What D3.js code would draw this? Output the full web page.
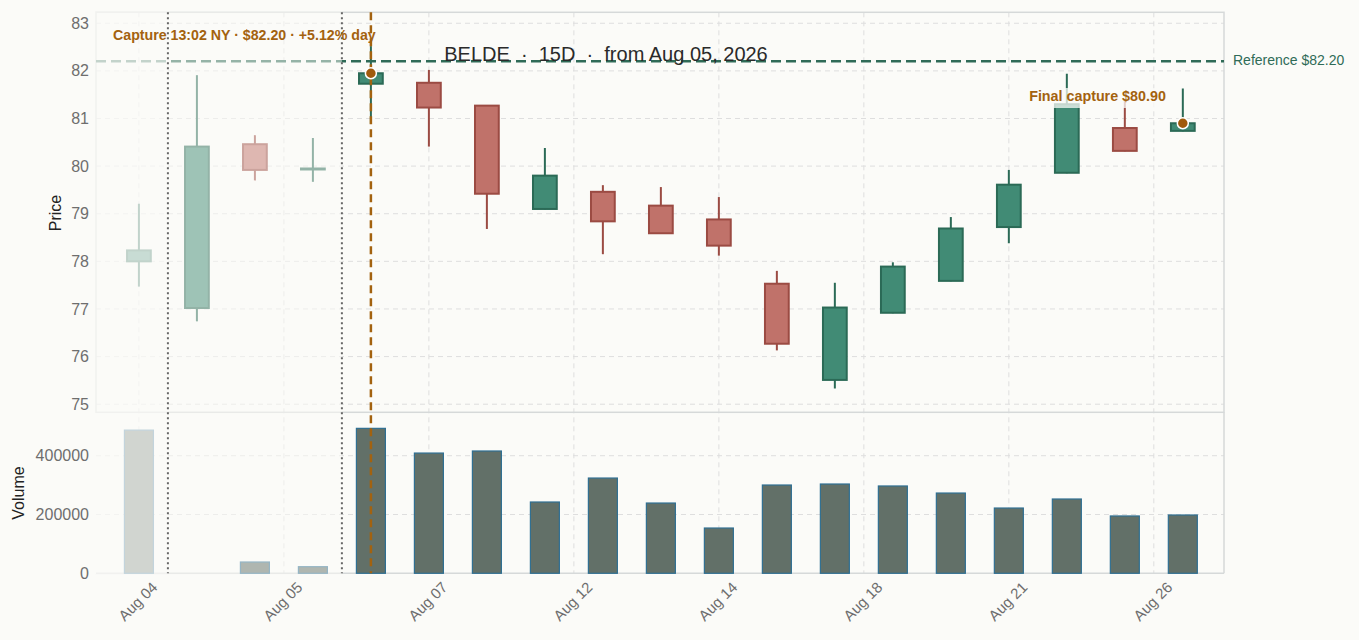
<!DOCTYPE html>
<html>
<head>
<meta charset="utf-8">
<script src="https://cdn.jsdelivr.net/npm/d3@7/dist/d3.min.js"></script>
<style>
  html, body { margin: 0; padding: 0; background: #fbfbf8; }
  svg { display: block; font-family: "Liberation Sans", Arial, sans-serif; }
</style>
</head>
<body>
<svg id="chart" width="1359" height="640"></svg>
<script>
// ---------------- DATA ----------------
const sessions = ["prior","pre","pre","pre","live","live","live","live","live","live","live","live","live","live","live","live","live","live","live"];
const openP  = [78.00, 77.02, 80.46, 79.93, 81.73, 81.75, 81.27, 79.10, 79.46, 79.17, 78.88, 77.53, 75.51, 76.92, 77.59, 78.72, 79.86, 80.80, 80.74];
const highP  = [79.21, 81.91, 80.65, 80.59, 82.52, 82.02, 81.28, 80.38, 79.60, 79.56, 79.35, 77.80, 77.55, 77.98, 78.93, 79.92, 81.94, 81.39, 81.63];
const lowP   = [77.47, 76.74, 79.70, 79.67, 80.89, 80.41, 78.68, 79.09, 78.15, 78.58, 78.12, 76.13, 75.33, 76.91, 77.58, 78.38, 79.85, 80.31, 80.73];
const closeP = [78.23, 80.41, 79.92, 79.95, 81.95, 81.23, 79.42, 79.80, 78.84, 78.59, 78.33, 76.27, 77.03, 77.89, 78.69, 79.61, 81.30, 80.32, 80.90];
const volumes = [487000, 0, 38400, 22500, 493000, 409000, 416000, 242500, 324000, 239000, 154000, 300300, 303700, 297000, 273000, 222000, 252700, 195000, 198300];

const tickSlots  = [0, 2.5, 5, 7.5, 10, 12.5, 15, 17.5];
const tickLabels = ["Aug 04", "Aug 05", "Aug 07", "Aug 12", "Aug 14", "Aug 18", "Aug 21", "Aug 26"];
const priceTicks = [75, 76, 77, 78, 79, 80, 81, 82, 83];
const volumeTicks = [0, 200000, 400000];

const sessionBreaks = [0.5, 3.5];
const captureSlot = 4;
const finalSlot = 18;
const referencePrice = 82.20;
const titleText = "BELDE  \u00b7  15D  \u00b7  from Aug 05, 2026";
const captureText = "Capture 13:02 NY \u00b7 $82.20 \u00b7 +5.12% day";
const finalText = "Final capture $80.90";
const referenceText = "Reference $82.20";

// ---------------- LAYOUT ----------------
const L = 96, R = 1224, PT = 12.3, PB = 412.3, VT = 412.3, VB = 573.3;
const BG = "#fbfbf8";
const UP_FILL = "#418b75", UP_LINE = "#2b6a56";
const DN_FILL = "#c0726a", DN_LINE = "#9b4b43";
const ORANGE = "#a3620f", REF = "#2f6b57";

const svg = d3.select("#chart");
const data = openP.map((o, i) => ({ i, o, h: highP[i], l: lowP[i], c: closeP[i], v: volumes[i], s: sessions[i] }));

const x = d3.scaleLinear().domain([-0.74, 18.71]).range([L, R]);
const y = d3.scaleLinear().domain([74.83, 83.23]).range([PB, PT]);
const yv = d3.scaleLinear().domain([0, 547600]).range([VB, VT]);
const slot = x(1) - x(0);

// grid
const grid = svg.append("g").attr("stroke", "#dedede").attr("stroke-width", 1).attr("stroke-dasharray", "5,4");
grid.selectAll(".gx").data(tickSlots).join("line")
  .attr("x1", d => x(d)).attr("x2", d => x(d)).attr("y1", PT).attr("y2", VB);
grid.selectAll(".gy").data(priceTicks).join("line")
  .attr("x1", L).attr("x2", R).attr("y1", d => y(d)).attr("y2", d => y(d));
grid.selectAll(".gv").data(volumeTicks.filter(d => d > 0)).join("line")
  .attr("x1", L).attr("x2", R).attr("y1", d => yv(d)).attr("y2", d => yv(d));

// axes
const axisStyle = g => {
  g.select(".domain").remove();
  g.selectAll(".tick line").remove();
  g.selectAll("text").attr("fill", "#6e6e6e").attr("font-size", 16).attr("font-family", "Liberation Sans, Arial, sans-serif");
};
svg.append("g").attr("transform", `translate(${L - 7},0)`)
  .call(d3.axisLeft(y).tickValues(priceTicks).tickSize(0).tickPadding(0).tickFormat(d3.format("d")))
  .call(axisStyle);
svg.append("g").attr("transform", `translate(${L - 7},0)`)
  .call(d3.axisLeft(yv).tickValues(volumeTicks).tickSize(0).tickPadding(0).tickFormat(d3.format("d")))
  .call(axisStyle);
const xa = svg.append("g").attr("transform", `translate(0,${VB})`)
  .call(d3.axisBottom(x).tickValues(tickSlots).tickSize(0).tickFormat((d, k) => tickLabels[k]))
  .call(axisStyle);
xa.selectAll("text")
  .attr("font-size", 15)
  .attr("text-anchor", "end").attr("dy", null).attr("y", 0)
  .attr("transform", "translate(19,15) rotate(-45)");

// axis titles
svg.append("text").attr("transform", `translate(61,213) rotate(-90)`).attr("text-anchor", "middle")
  .attr("font-size", 16).attr("fill", "#222").text("Price");
svg.append("text").attr("transform", `translate(24,493) rotate(-90)`).attr("text-anchor", "middle")
  .attr("font-size", 16).attr("fill", "#222").text("Volume");

// frames
svg.append("rect").attr("x", L).attr("y", PT).attr("width", R - L).attr("height", PB - PT)
  .attr("fill", "none").attr("stroke", "#d6d9d9").attr("stroke-width", 1.5);
svg.append("line").attr("x1", L).attr("x2", R).attr("y1", VB).attr("y2", VB)
  .attr("stroke", "#d6d9d9").attr("stroke-width", 1.5);
svg.append("line").attr("x1", R).attr("x2", R).attr("y1", VT).attr("y2", VB)
  .attr("stroke", "#d6d9d9").attr("stroke-width", 1.5);

// volume bars
const bw = slot * 0.5;
svg.append("g").selectAll("rect").data(data.filter(d => d.v > 0)).join("rect")
  .attr("x", d => x(d.i) - bw / 2).attr("width", bw)
  .attr("y", d => yv(d.v)).attr("height", d => yv(0) - yv(d.v))
  .attr("fill", "#627068").attr("stroke", "#2f6f92").attr("stroke-width", 1.2);

// reference line
svg.append("line").attr("x1", L).attr("x2", R).attr("y1", y(referencePrice)).attr("y2", y(referencePrice))
  .attr("stroke", REF).attr("stroke-width", 2.5).attr("stroke-dasharray", "10,5");

// candles
const cw = slot * 0.41;
const cg = svg.append("g").selectAll("g").data(data).join("g");
cg.append("line")
  .attr("x1", d => x(d.i)).attr("x2", d => x(d.i))
  .attr("y1", d => y(d.h)).attr("y2", d => y(d.l))
  .attr("stroke", d => d.c >= d.o ? UP_LINE : DN_LINE).attr("stroke-width", 2);
cg.append("rect")
  .attr("x", d => x(d.i) - cw / 2).attr("width", cw)
  .attr("y", d => y(Math.max(d.o, d.c)))
  .attr("height", d => Math.max(1, Math.abs(y(d.o) - y(d.c))))
  .attr("fill", d => d.c >= d.o ? UP_FILL : DN_FILL)
  .attr("stroke", d => d.c >= d.o ? UP_LINE : DN_LINE).attr("stroke-width", 2);

// session fade overlays
svg.append("rect").attr("x", L - 1).attr("y", PT - 1).attr("width", x(sessionBreaks[1]) - L + 1).attr("height", VB - PT + 2)
  .attr("fill", BG).attr("opacity", 0.5);
svg.append("rect").attr("x", L - 1).attr("y", PT - 1).attr("width", x(sessionBreaks[0]) - L + 1).attr("height", VB - PT + 2)
  .attr("fill", BG).attr("opacity", 0.45);

// session break dotted lines
svg.append("g").selectAll("line").data(sessionBreaks).join("line")
  .attr("x1", d => x(d)).attr("x2", d => x(d)).attr("y1", PT).attr("y2", VB)
  .attr("stroke", "#666").attr("stroke-width", 2).attr("stroke-dasharray", "2,3");

// capture vertical
svg.append("line").attr("x1", x(captureSlot)).attr("x2", x(captureSlot)).attr("y1", PT).attr("y2", VB)
  .attr("stroke", ORANGE).attr("stroke-width", 2.5).attr("stroke-dasharray", "8,5");

// final-capture label background + text
svg.append("rect").attr("x", 1024).attr("y", 88).attr("width", 148).attr("height", 20)
  .attr("fill", BG).attr("opacity", 0.75);
svg.append("text").attr("x", 1097.5).attr("y", 101).attr("text-anchor", "middle")
  .attr("font-size", 14.3).attr("font-weight", "bold").attr("fill", ORANGE).text(finalText);

// capture dots
svg.append("g").selectAll("circle").data([data[captureSlot], data[finalSlot]]).join("circle")
  .attr("cx", d => x(d.i)).attr("cy", d => y(d.c)).attr("r", 5.5)
  .attr("fill", "#a05a0c").attr("stroke", "#fff").attr("stroke-width", 1.5);

// texts
svg.append("text").attr("x", 113).attr("y", 39.5).attr("font-size", 14.2).attr("font-weight", "bold")
  .attr("fill", ORANGE).text(captureText);
svg.append("text").attr("x", 606).attr("y", 61).attr("text-anchor", "middle")
  .attr("font-size", 20).attr("fill", "#2a2a2a").style("white-space", "pre").text(titleText);
svg.append("text").attr("x", 1233).attr("y", 65).attr("font-size", 14)
  .attr("fill", REF).text(referenceText);
</script>
</body>
</html>
